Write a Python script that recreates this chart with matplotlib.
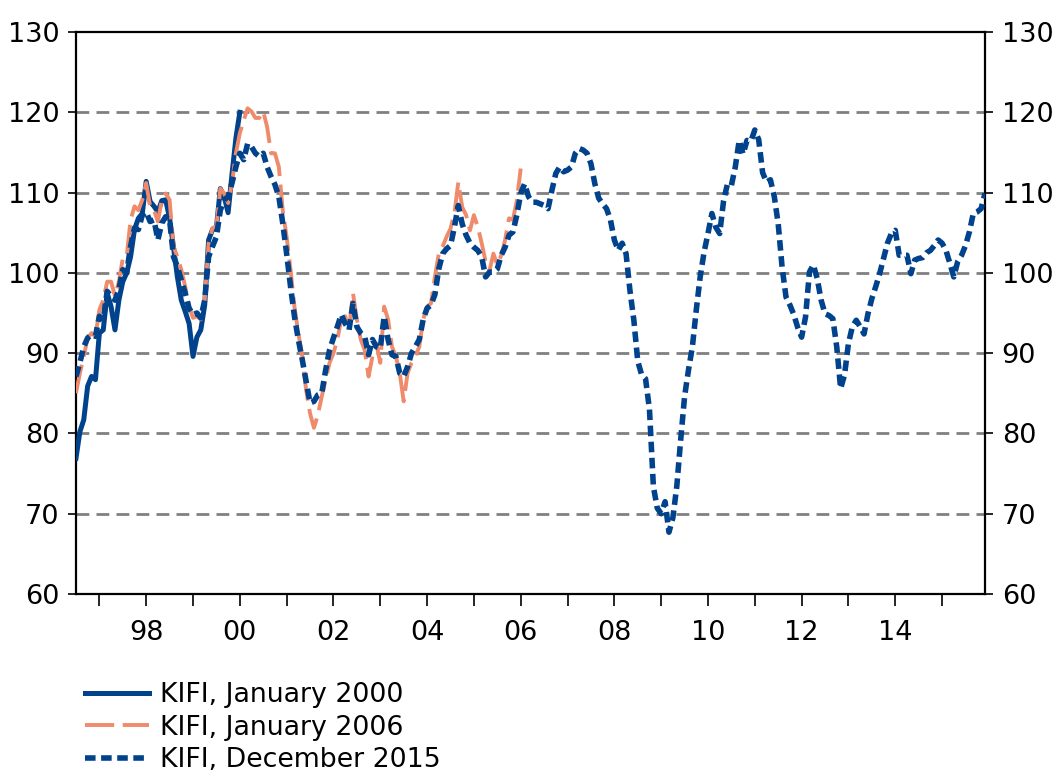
import numpy as np
import matplotlib
matplotlib.use("Agg")
import matplotlib.pyplot as plt

# monthly index values, first observation 1996M7
start_year = 1996
start_month = 7

kifi_jan2000 = [
    76.9, 80.2, 81.7, 85.9, 87.1, 86.7,
    92.5, 92.9, 97.5, 95.8, 92.9, 96.6, 98.9, 100.0, 102.0, 105.4, 106.8, 107.4,
    111.4, 108.9, 108.3, 107.6, 109.0, 109.1, 106.8, 103.2, 99.5, 96.6, 95.2, 93.7,
    89.6, 92.0, 92.9, 96.0, 104.1, 105.4, 105.6, 110.5, 109.5, 107.5, 112.3, 116.8,
    120.0,
]

kifi_jan2006 = [
    85.0, 87.5, 89.6, 91.9, 92.5, 92.1,
    95.4, 96.6, 98.9, 98.9, 97.1, 98.9, 101.8, 102.0, 106.6, 108.3, 107.8, 109.1,
    111.2, 108.3, 107.8, 106.4, 109.1, 109.9, 109.1, 103.3, 102.0, 100.4, 98.3, 95.8,
    94.4, 94.6, 94.2, 96.6, 103.7, 105.6, 105.8, 110.5, 109.9, 108.7, 111.2, 114.9,
    117.4, 119.0, 120.5, 120.1, 119.3, 119.3, 120.1, 118.2, 114.9, 114.9, 113.2, 107.8,
    104.5, 100.4, 95.8, 92.5, 89.6, 85.4, 82.5, 80.7, 82.3, 84.6, 86.7, 88.8,
    90.0, 91.7, 94.2, 94.6, 92.9, 97.5, 94.2, 91.7, 90.4, 87.1, 89.6, 91.2,
    88.8, 95.8, 94.2, 90.8, 89.6, 87.5, 84.0, 87.5, 88.8, 89.6, 90.8, 94.2,
    95.8, 96.2, 99.5, 102.4, 103.3, 104.5, 105.5, 107.4, 111.3, 108.2, 107.2, 105.3,
    107.2, 105.7, 103.7, 101.4, 100.3, 102.4, 101.0, 102.2, 104.1, 106.8, 106.6, 109.0,
    113.0,
]

kifi_dec2015 = [
    87.1, 88.8, 90.8, 91.9, 92.3, 92.1,
    94.6, 94.2, 97.7, 97.1, 96.6, 97.9, 100.4, 100.0, 103.3, 105.6, 105.4, 107.2,
    107.6, 106.4, 106.6, 104.1, 106.2, 107.0, 106.6, 102.0, 100.8, 99.1, 97.5, 95.6,
    94.8, 95.0, 94.4, 96.6, 102.0, 103.3, 104.5, 107.8, 109.1, 109.5, 111.2, 113.2,
    114.9, 114.1, 116.1, 115.7, 114.9, 114.5, 114.9, 113.2, 112.0, 111.0, 109.5, 106.2,
    102.4, 98.3, 94.6, 91.7, 89.2, 86.5, 83.8, 84.0, 84.8, 85.0, 87.9, 90.4,
    91.9, 93.3, 94.8, 93.7, 92.9, 96.2, 93.3, 92.5, 92.1, 89.8, 91.7, 90.8,
    90.6, 94.6, 91.7, 89.8, 89.6, 87.5, 87.1, 88.3, 90.0, 90.8, 91.7, 94.2,
    95.6, 96.0, 97.3, 100.5, 102.4, 103.0, 103.4, 105.7, 108.4, 106.1, 104.7, 103.7,
    103.2, 102.8, 102.0, 99.5, 100.1, 100.1, 100.5, 102.2, 103.2, 104.7, 105.1, 107.2,
    109.9, 111.1, 109.5, 108.8, 108.8, 108.6, 108.4, 108.0, 110.3, 112.4, 113.2, 112.6,
    112.8, 113.2, 114.9, 115.5, 115.3, 114.9, 113.6, 111.1, 109.3, 108.6, 108.0, 106.6,
    104.1, 102.8, 103.7, 102.4, 97.8, 94.1, 89.0, 87.3, 86.8, 83.0, 73.4, 70.7,
    70.0, 71.5, 67.7, 69.5, 73.4, 79.2, 84.6, 87.9, 90.8, 95.4, 99.5, 102.6,
    104.9, 107.4, 105.7, 104.9, 109.0, 111.1, 110.9, 113.2, 116.5, 114.8, 116.5, 116.4,
    117.8, 116.6, 112.5, 111.3, 111.6, 109.5, 106.1, 100.7, 97.0, 96.0, 94.8, 93.2,
    92.0, 94.5, 100.1, 101.0, 99.3, 96.6, 94.9, 94.7, 94.3, 90.8, 85.6, 87.3,
    91.2, 93.3, 94.1, 93.3, 92.4, 94.9, 96.8, 98.3, 99.9, 101.8, 103.7, 104.9,
    105.3, 102.2, 102.2, 102.2, 99.9, 101.6, 101.8, 101.9, 102.5, 102.8, 103.4, 104.1,
    103.7, 102.8, 101.2, 99.5, 101.4, 102.2, 103.4, 105.1, 107.4, 107.6, 108.0, 109.9,
]

labels = ["KIFI, January 2000", "KIFI, January 2006", "KIFI, December 2015"]
major_years = list(range(1998, 2015, 2))
minor_years = list(range(1997, 2016, 2))
y_ticks = list(range(60, 131, 10))

blue = "#00428C"
salmon = "#EF8B6A"


def month_axis(values):
    t0 = start_year + (start_month - 1) / 12
    return t0 + np.arange(len(values)) / 12


plt.rcParams["font.family"] = ["DejaVu Sans"]
fig = plt.figure(figsize=(10.52, 7.76), dpi=100)
ax = fig.add_axes([0.0722, 0.2345, 0.8641, 0.7242])

# gridlines only inside the box
for v in y_ticks[1:-1]:
    ax.axhline(v, color="#808080", lw=2.0, linestyle=(0, (4.6, 2.6)), zorder=1)

l1, = ax.plot(month_axis(kifi_jan2000), kifi_jan2000, color=blue, lw=3.6,
              solid_joinstyle="round", zorder=3)
l2, = ax.plot(month_axis(kifi_jan2006), kifi_jan2006, color=salmon, lw=2.8,
              linestyle=(0, (7.5, 2.2)), zorder=4)
l3, = ax.plot(month_axis(kifi_dec2015), kifi_dec2015, color=blue, lw=4.0,
              linestyle=(0, (1.9, 1.0)), zorder=5)

t_all = month_axis(kifi_dec2015)
ax.set_xlim(t_all[0], t_all[-1])
ax.set_ylim(60, 130)

ax.set_yticks(y_ticks)
ax.set_xticks(major_years)
ax.set_xticklabels(["%02d" % (y % 100) for y in major_years])
ax.set_xticks(minor_years, minor=True)

ax.tick_params(axis="y", which="both", direction="out", length=6, width=1.2,
               left=True, right=True, labelleft=True, labelright=True,
               labelsize=19.5, pad=6)
ax.tick_params(axis="x", which="both", direction="out", length=8.5, width=1.2,
               labelsize=19.5, pad=10)

for s in ax.spines.values():
    s.set_linewidth(1.6)
    s.set_color("black")

leg = fig.legend([l1, l2, l3], labels, loc="upper left",
                 bbox_to_anchor=(0.0808, 0.121), frameon=False, fontsize=19.3,
                 handlelength=2.4, handletextpad=0.4, labelspacing=0.24,
                 borderpad=0, borderaxespad=0)

fig.savefig("out.png", dpi=100)
